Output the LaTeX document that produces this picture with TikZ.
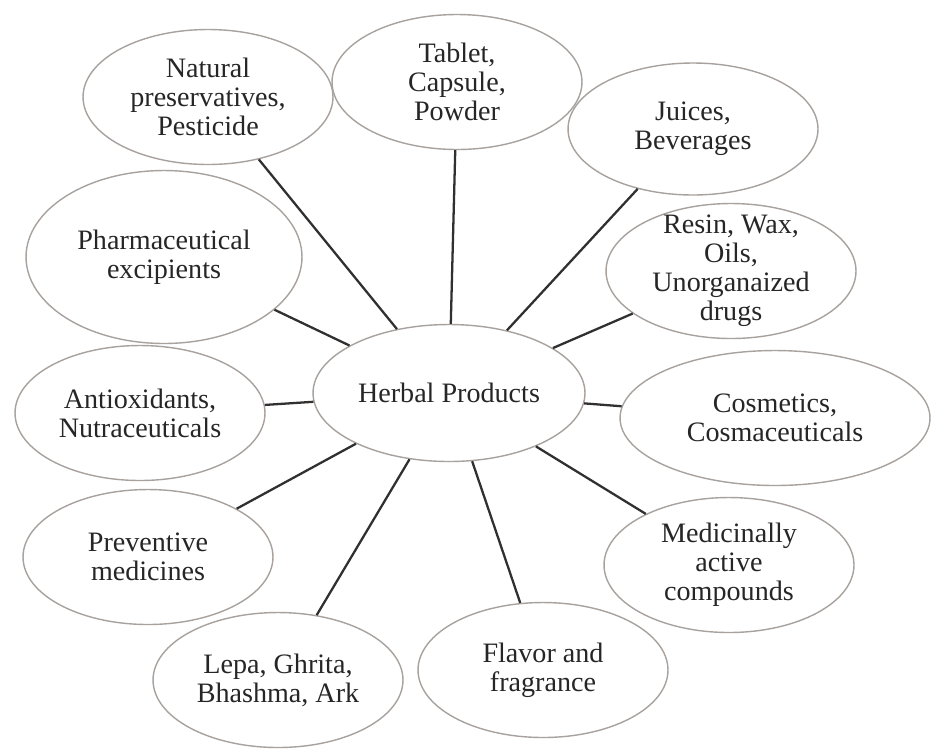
\documentclass[tikz,border=0pt]{standalone}
\usepackage{fontspec}
\setmainfont{Liberation Serif}
\usetikzlibrary{shapes.geometric}

\definecolor{rimgray}{HTML}{A8A29E}
\definecolor{spokegray}{HTML}{303030}
\definecolor{inkgray}{HTML}{262626}

\begin{document}
\begin{tikzpicture}[x=0.02cm, y=-0.02cm,
    bubble/.style={ellipse, draw=rimgray, line width=0.8pt, fill=white,
        inner sep=0pt, align=center, text=inkgray,
        font=\fontsize{16}{16.5}\selectfont,
        minimum width=5cm, minimum height=2.7cm},
    spoke/.style={draw=spokegray, line width=1.3pt}]

    \useasboundingbox (0,0) rectangle (935,752);

    % Hub
    \node[bubble, minimum width=5.44cm, minimum height=2.74cm] (hub) at (449,393) {Herbal Products};

    % Upper ring
    \node[bubble] (pres) at (208,97) {Natural\\preservatives,\\Pesticide};
    \node[bubble] (tab) at (457,82) {Tablet,\\Capsule,\\Powder};
    \node[bubble, minimum height=2.64cm] (juice) at (693,129) {Juices,\\Beverages};
    \node[bubble, inner ysep=-8pt] (resin) at (731,271) {Resin, Wax,\\Oils,\\Unorganaized\\drugs};
    \node[bubble, minimum width=5.52cm, minimum height=3.46cm] (excip) at (164,257) {Pharmaceutical\\excipients};

    % Middle ring
    \node[bubble, minimum width=6.2cm] (cosm) at (775,418) {Cosmetics,\\Cosmaceuticals};
    \node[bubble] (antiox) at (140,413) {Antioxidants,\\Nutraceuticals};

    % Lower ring
    \node[bubble] (prev) at (148,557) {Preventive\\medicines};
    \node[bubble] (med) at (729,565) {Medicinally\\active\\compounds};
    \node[bubble] (lepa) at (278,680) {Lepa, Ghrita,\\Bhashma, Ark};
    \node[bubble] (flav) at (543,670) {Flavor and\\fragrance};

    % Spokes from the hub
    \foreach \n in {pres,tab,juice,resin,excip,cosm,antiox,prev,med,lepa,flav}
        \draw[spoke] (hub) -- (\n);

\end{tikzpicture}
\end{document}
